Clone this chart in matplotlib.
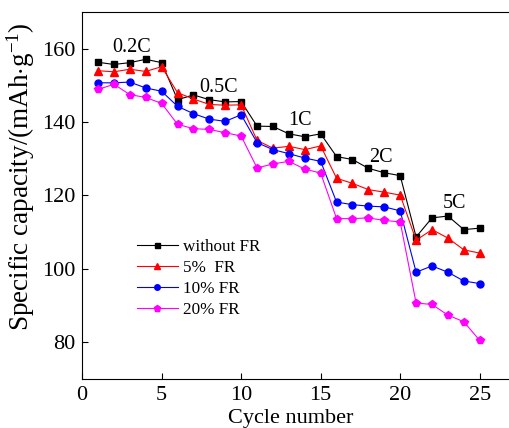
import numpy as np
import matplotlib
matplotlib.use("Agg")
import matplotlib.pyplot as plt

plt.rcParams['font.family'] = ['Liberation Serif', 'DejaVu Serif']
plt.rcParams['mathtext.fontset'] = 'custom'
plt.rcParams['mathtext.rm'] = 'Liberation Serif'
plt.rcParams['mathtext.it'] = 'Liberation Serif:italic'

cycles = np.arange(1, 26)
no_fr = [156.3, 155.7, 156.2, 157.1, 156.2, 146.1, 147.4, 146.1, 145.5, 145.6,
         138.9, 138.8, 136.8, 136.0, 136.8, 130.6, 129.8, 127.4, 126.2, 125.4,
         108.7, 113.9, 114.4, 110.7, 111.1]
fr5 = [154.0, 153.7, 154.4, 153.8, 155.1, 148.0, 146.3, 144.8, 144.6, 144.7,
       135.0, 132.9, 133.4, 132.5, 133.5, 124.7, 123.3, 121.6, 120.9, 120.1,
       107.8, 110.7, 108.4, 105.2, 104.3]
fr10 = [150.7, 150.7, 150.9, 149.3, 148.4, 144.3, 142.3, 140.8, 140.2, 142.0,
        134.4, 132.5, 131.4, 130.2, 129.3, 118.2, 117.5, 117.1, 116.9, 115.8,
        99.1, 100.8, 99.1, 96.7, 96.0]
fr20 = [148.9, 150.3, 147.5, 146.7, 145.1, 139.4, 138.2, 138.0, 137.1, 136.2,
        127.5, 128.6, 129.3, 127.2, 126.1, 113.7, 113.7, 113.9, 113.2, 112.8,
        90.7, 90.3, 87.4, 85.6, 80.5]

rate_labels = ['0.2C', '0.5C', '1C', '2C', '5C']
rate_x = [3.1, 8.6, 13.7, 18.8, 23.4]
rate_y = [160.3, 149.4, 140.4, 130.3, 117.8]

fig = plt.figure(figsize=(5.1, 4.28), dpi=100)
ax = fig.add_axes([0.161, 0.1145, 0.842, 0.8575])

ax.plot(cycles, no_fr, '-', color='black', lw=0.8, marker='s', ms=4.5, label='without FR')
ax.plot(cycles, fr5, '-', color='red', lw=0.8, marker='^', ms=6, label='5%  FR')
ax.plot(cycles, fr10, '-', color='blue', lw=0.8, marker='o', ms=5, label='10% FR')
ax.plot(cycles, fr20, '-', color='magenta', lw=0.8, marker='p', ms=6, label='20% FR')

for t, x, y in zip(rate_labels, rate_x, rate_y):
    ax.text(x, y, t, fontsize=14.5, ha='center', va='center')

ax.set_xlim(0, 27)
ax.set_ylim(70, 170)
ax.set_xticks([0, 5, 10, 15, 20, 25])
ax.set_yticks([80, 100, 120, 140, 160])
ax.tick_params(direction='in', length=4, labelsize=16, top=False, right=False, pad=5)
ax.spines['right'].set_visible(False)
ax.set_xlabel('Cycle number', fontsize=16)
ax.set_ylabel(r'Specific capacity/(mAh$\cdot$g$^{-1}$)', fontsize=19.5)
ax.xaxis.set_label_coords(0.485, -0.082)
ax.yaxis.set_label_coords(-0.105, 0.55)

ax.legend(loc='upper left', bbox_to_anchor=(0.107, 0.405), frameon=False,
          fontsize=12.3, handlelength=2.4, borderpad=0, labelspacing=0.3,
          handletextpad=0.3, markerscale=0.8)

fig.savefig('out.png', dpi=100)
